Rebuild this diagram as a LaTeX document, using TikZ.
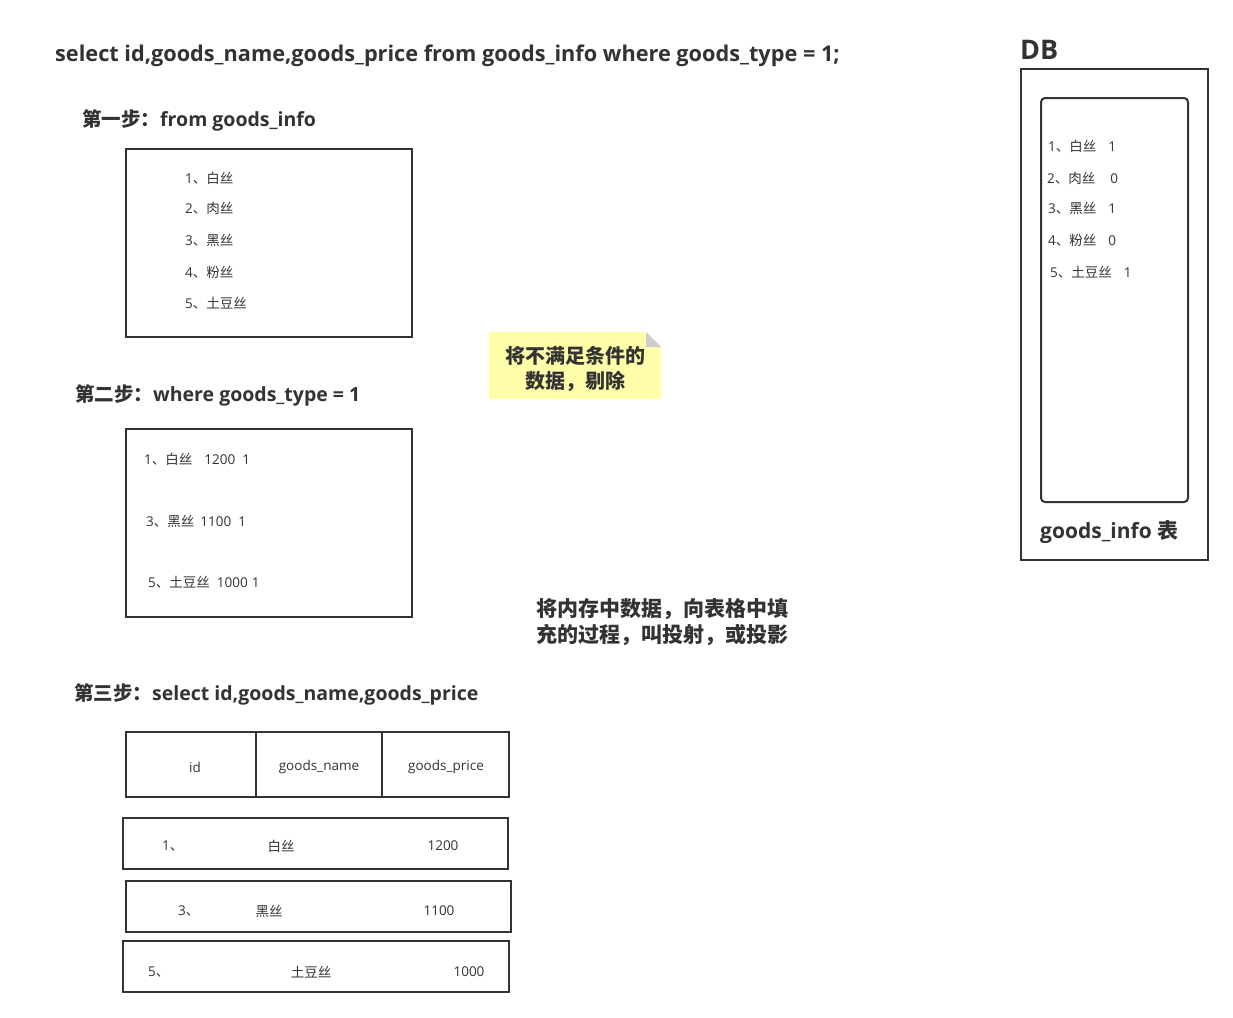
\documentclass[tikz,border=0pt]{standalone}
\usepackage{fontspec}
\setmainfont{Open Sans}
\newfontfamily\cjk{Noto Sans CJK SC}
\definecolor{ink}{HTML}{333333}
\definecolor{notefill}{HTML}{FFFFAA}
\definecolor{foldgray}{HTML}{CCCCCC}
\tikzset{
  txt/.style={inner sep=0pt, text=ink, font=\fontsize{13.5}{15}\selectfont},
  lft/.style={txt, anchor=west},
  headtxt/.style={inner sep=0pt, text=ink, anchor=west, font=\fontsize{19.5}{22}\selectfont\bfseries},
  notetxt/.style={inner sep=0pt, text=ink, align=center, font=\fontsize{20}{25.5}\selectfont\bfseries\cjk},
  boxline/.style={draw=ink, line width=2pt},
}
\newcommand{\gap}[1]{\hspace*{#1pt}}
\begin{document}
\begin{tikzpicture}[x=1pt,y=-1pt]
\useasboundingbox[fill=white] (0,0) rectangle (1233,1017);

% title
\node[headtxt, font=\fontsize{21.7}{24}\selectfont\bfseries] (title) at (55,56) {select id,goods\_name,goods\_price from goods\_info where goods\_type = 1;};

% step 1
\node[headtxt] (step1) at (82,120) {{\cjk 第一步：}from goods\_info};
\draw[boxline] (126,149) rectangle (412,337);
\node[lft] (a1) at (185,178) {1{\cjk 、白丝}};
\node[lft] (a2) at (185,208) {2{\cjk 、肉丝}};
\node[lft] (a3) at (185,240) {3{\cjk 、黑丝}};
\node[lft] (a4) at (185,272) {4{\cjk 、粉丝}};
\node[lft] (a5) at (185,303) {5{\cjk 、土豆丝}};

% note
\fill[notefill] (489,332) -- (646,332) -- (661,347) -- (661,399) -- (489,399) -- cycle;
\fill[foldgray] (646,332) -- (646,347) -- (661,347) -- cycle;
\node[notetxt] (note1) at (575,369) {将不满足条件的\\数据，剔除};

% step 2
\node[headtxt] (step2) at (75,395) {{\cjk 第二步：}where goods\_type = 1};
\draw[boxline] (126,429) rectangle (412,617);
\node[lft] (b1) at (144,459) {1{\cjk 、白丝}\gap{12}1200\gap{7}1};
\node[lft] (b2) at (146,521) {3{\cjk 、黑丝}\gap{6}1100\gap{7}1};
\node[lft] (b3) at (148,582) {5{\cjk 、土豆丝}\gap{7}1000\gap{4}1};

% note 2
\node[notetxt, align=left, anchor=west, font=\fontsize{21}{26}\selectfont\bfseries\cjk] (note2) at (536,622) {将内存中数据，向表格中填\\充的过程，叫投射，或投影};

% step 3
\node[headtxt] (step3) at (74,694) {{\cjk 第三步：}select id,goods\_name,goods\_price};
\draw[boxline] (126,732) rectangle (509,797);
\draw[boxline] (256,732) -- (256,797);
\draw[boxline] (382,732) -- (382,797);
\node[txt] (h1) at (195,767) {id};
\node[txt] (h2) at (319,767) {goods\_name};
\node[txt] (h3) at (446,767) {goods\_price};

\draw[boxline] (123,818) rectangle (508,869);
\node[lft] (r11) at (162,846) {1{\cjk 、}};
\node[txt] (r12) at (281,846) {\cjk 白丝};
\node[txt] (r13) at (443,846) {1200};

\draw[boxline] (126,881) rectangle (511,932);
\node[lft] (r21) at (178,911) {3{\cjk 、}};
\node[txt] (r22) at (269,911) {\cjk 黑丝};
\node[txt] (r23) at (439,911) {1100};

\draw[boxline] (123,941) rectangle (509,992);
\node[lft] (r31) at (148,972) {5{\cjk 、}};
\node[txt] (r32) at (311,972) {\cjk 土豆丝};
\node[txt] (r33) at (469,972) {1000};

% DB
\node[headtxt, font=\fontsize{27}{30}\selectfont\bfseries] (db) at (1020,50) {DB};
\draw[boxline] (1021,69) rectangle (1208,560);
\draw[boxline, rounded corners=4pt] (1041,98) rectangle (1188,502);
\node[lft] (d1) at (1048,146) {1{\cjk 、白丝}\gap{12}1};
\node[lft] (d2) at (1047,178) {2{\cjk 、肉丝}\gap{15}0};
\node[lft] (d3) at (1048,208) {3{\cjk 、黑丝}\gap{12}1};
\node[lft] (d4) at (1048,240) {4{\cjk 、粉丝}\gap{12}0};
\node[lft] (d5) at (1050,272) {5{\cjk 、土豆丝}\gap{12}1};
\node[headtxt, font=\fontsize{21}{24}\selectfont\bfseries] (tbl) at (1040,532) {goods\_info {\cjk 表}};
\end{tikzpicture}
\end{document}
